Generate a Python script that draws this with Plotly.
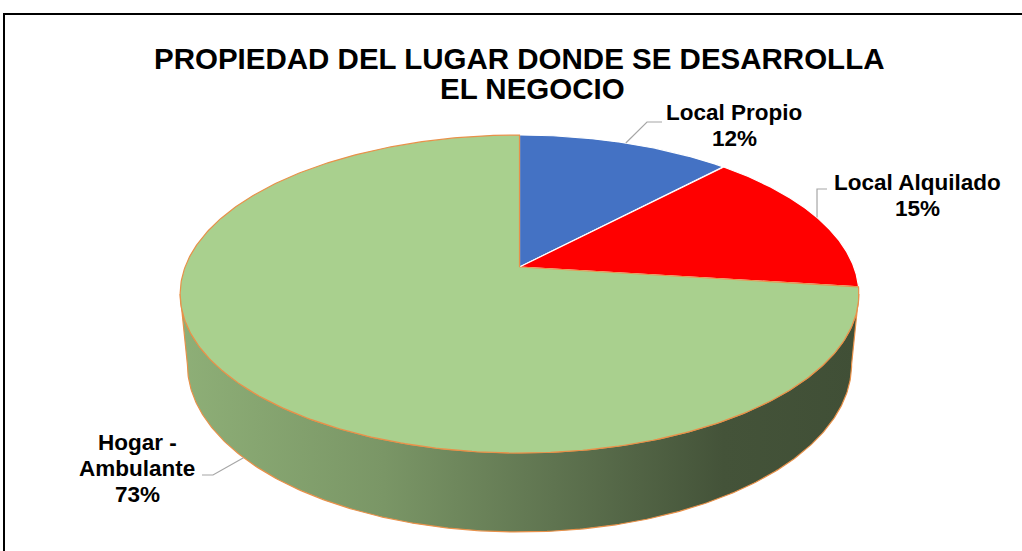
import numpy as np
import plotly.graph_objects as go

# ---------------- data ----------------
categories = ["Local Propio", "Local Alquilado", "Hogar - Ambulante"]
label_lines = [["Local Propio"], ["Local Alquilado"], ["Hogar -", "Ambulante"]]
values = [12, 15, 73]
colors = ["#4472C4", "#FF0000", "#A9D08E"]
title_lines = ["PROPIEDAD DEL LUGAR DONDE SE DESARROLLA", "EL NEGOCIO"]

# ---------------- layout / geometry ----------------
W, H = 1022, 551
CX, CY = 519.5, 267.0          # projected pie centre (px)
F = 1747.0                     # focal length (px)
DIST = 5.224                   # camera distance (pie radii)
TILT = np.arctan(0.5206)       # x-rotation
DEPTH = 0.24                   # pie thickness (pie radii)
cT, sT = np.cos(TILT), np.sin(TILT)
FONT = "Liberation Sans, Arial, sans-serif"

TITLE_POS = [(518.5, 58), (532, 88)]
TITLE_SIZE = 29.5
LABEL_SIZE = 22.5
LINE_STEP = 26
LABEL_POS = [(734, 125.5), (917, 195.5), (137, 468)]
LEADER_ELBOW = [(647, 122), (817, 189), (213, 475)]
LEADER_END = [(662, 122), (827, 189), (202, 475)]
EDGE_COLORS = ["#FFFFFF", "#FFFFFF", "#E8914A"]
WALL_SHADES = [(0.0, 0.84), (0.3, 0.72), (0.55, 0.56), (0.8, 0.40), (1.0, 0.38)]


def project(X, Y, Z):
    yc = Y * cT + Z * sT
    zc = DIST + Z * cT - Y * sT
    return CX + F * X / zc, CY - F * yc / zc


def shade(hexcol, k):
    h = hexcol.lstrip("#")
    r, g, b = (int(h[i:i + 2], 16) for i in (0, 2, 4))
    return "rgb(%d,%d,%d)" % (round(r * k), round(g * k), round(b * k))


fr = np.array(values, dtype=float) / sum(values)
ends = 2 * np.pi * np.cumsum(fr)
starts = np.concatenate([[0.0], ends[:-1]])

fig = go.Figure()

# pie extent for the wall gradient
th_all = np.linspace(0, 2 * np.pi, 721)
px_all, _ = project(np.sin(th_all), 0 * th_all, np.cos(th_all))
xmin, xmax = px_all.min(), px_all.max()

# visible front wall limits
t_top = np.arccos(-cT / DIST)
t_bot = np.arccos(-cT / (DIST + DEPTH * sT))

# ---- side wall ----
for i in range(len(values)):
    a0, a1 = starts[i], ends[i]
    ta0, ta1 = max(a0, t_top), min(a1, 2 * np.pi - t_top)
    tb0, tb1 = max(a0, t_bot), min(a1, 2 * np.pi - t_bot)
    if ta1 <= ta0 or tb1 <= tb0:
        continue
    tt = np.linspace(ta0, ta1, 300)
    tb = np.linspace(tb1, tb0, 300)
    x1, y1 = project(np.sin(tt), 0 * tt, np.cos(tt))
    x2, y2 = project(np.sin(tb), -DEPTH + 0 * tb, np.cos(tb))
    xs = np.concatenate([x1, x2, x1[:1]])
    ys = np.concatenate([y1, y2, y1[:1]])
    fig.add_trace(go.Scatter(
        x=xs, y=ys, mode="lines", fill="toself",
        fillgradient=dict(type="horizontal", start=xmin, stop=xmax,
                          colorscale=[[p, shade(colors[i], k)] for p, k in WALL_SHADES]),
        line=dict(color=EDGE_COLORS[i], width=1.2),
        hoverinfo="skip", showlegend=False))

# ---- top face slices ----
order = [0, 1, 2]
for i in order:
    th = np.linspace(starts[i], ends[i], 400)
    ax, ay = project(np.sin(th), 0 * th, np.cos(th))
    xs = np.concatenate([[CX], ax, [CX]])
    ys = np.concatenate([[CY], ay, [CY]])
    fig.add_trace(go.Scatter(
        x=xs, y=ys, mode="lines", fill="toself", fillcolor=colors[i],
        line=dict(color=EDGE_COLORS[i], width=1.2),
        name=categories[i], hoverinfo="name", showlegend=False))

# ---- leader lines and labels ----
annotations = []
for i in range(len(values)):
    mid = (starts[i] + ends[i]) / 2
    yw = -DEPTH if np.cos(mid) < 0 else 0.0
    axp, ayp = project(np.sin(mid), yw, np.cos(mid))
    fig.add_trace(go.Scatter(
        x=[axp, LEADER_ELBOW[i][0], LEADER_END[i][0]],
        y=[ayp, LEADER_ELBOW[i][1], LEADER_END[i][1]],
        mode="lines", line=dict(color="#A6A6A6", width=1.2),
        hoverinfo="skip", showlegend=False))
    lines = label_lines[i] + ["%d%%" % round(fr[i] * 100)]
    n = len(lines)
    for j, t in enumerate(lines):
        annotations.append(dict(
            x=LABEL_POS[i][0], y=LABEL_POS[i][1] + (j - (n - 1) / 2) * LINE_STEP,
            xref="x", yref="y", text="<b>%s</b>" % t, showarrow=False,
            xanchor="center", yanchor="middle",
            font=dict(family=FONT, size=LABEL_SIZE, color="#000000")))

for (tx, ty), t in zip(TITLE_POS, title_lines):
    annotations.append(dict(
        x=tx, y=ty, xref="x", yref="y", text="<b>%s</b>" % t, showarrow=False,
        xanchor="center", yanchor="middle",
        font=dict(family=FONT, size=TITLE_SIZE, color="#000000")))

fig.update_layout(
    width=W, height=H, autosize=False,
    margin=dict(l=0, r=0, t=0, b=0),
    paper_bgcolor="white", plot_bgcolor="white",
    xaxis=dict(range=[0, W], visible=False, fixedrange=True),
    yaxis=dict(range=[H, 0], visible=False, fixedrange=True),
    annotations=annotations,
    shapes=[dict(type="rect", xref="x", yref="y", x0=4, y0=14, x1=W + 10, y1=H + 10,
                 line=dict(color="black", width=2), fillcolor="rgba(0,0,0,0)", layer="above")],
    showlegend=False,
)

fig.write_html("out.html")
